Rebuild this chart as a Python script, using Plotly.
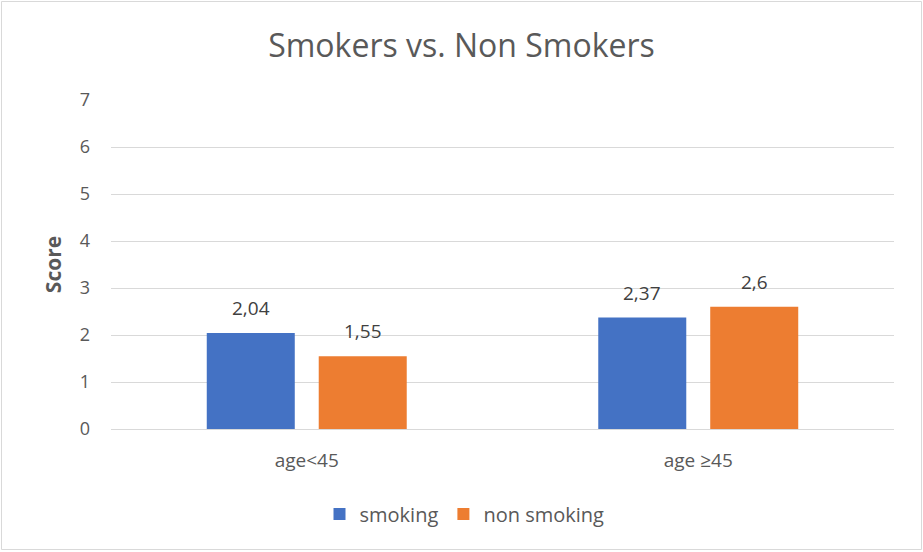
import plotly.graph_objects as go

categories = ["age<45", "age \u226545"]
smoking = [2.04, 2.37]
non_smoking = [1.55, 2.6]
smoking_labels = ["2,04", "2,37"]
non_smoking_labels = ["1,55", "2,6"]
y_ticks = [0, 1, 2, 3, 4, 5, 6, 7]

FONT = "Open Sans"
GREY = "#595959"
LABEL = "#404040"

fig = go.Figure()
fig.add_trace(go.Bar(name="smoking", x=categories, y=smoking,
                     marker_color="#4472C4", marker_line_width=0))
fig.add_trace(go.Bar(name="non smoking", x=categories, y=non_smoking,
                     marker_color="#ED7D31", marker_line_width=0))

annotations = []
for cat, v, t in zip(categories, smoking, smoking_labels):
    annotations.append(dict(x=cat, y=v, text=t, xref="x", yref="y",
                            xshift=-56, yshift=10, yanchor="bottom",
                            showarrow=False,
                            font=dict(size=19, color=LABEL, family=FONT)))
for cat, v, t in zip(categories, non_smoking, non_smoking_labels):
    annotations.append(dict(x=cat, y=v, text=t, xref="x", yref="y",
                            xshift=56, yshift=10, yanchor="bottom",
                            showarrow=False,
                            font=dict(size=19, color=LABEL, family=FONT)))

L, R, T, B = 111, 29, 100, 123
W, H = 923, 552
pw, ph = W - L - R, H - T - B

def px_x(x):
    return (x - L) / pw

def px_y(y):
    return (H - B - y) / ph

fig.update_layout(
    width=W, height=H,
    margin=dict(l=L, r=R, t=T, b=B),
    paper_bgcolor="white", plot_bgcolor="white",
    barmode="group", bargap=0.428, bargroupgap=0.214,
    font=dict(family=FONT, color=GREY, size=18),
    title=dict(text="Smokers vs. Non Smokers", x=0.5, xanchor="center",
               y=1 - 46 / H, yanchor="middle",
               font=dict(size=32, color=GREY, family=FONT)),
    xaxis=dict(showgrid=False, showline=False, ticks="",
               tickfont=dict(size=19, color=GREY), ticklabelstandoff=18),
    yaxis=dict(range=[0, 7], tickvals=y_ticks, showgrid=True,
               gridcolor="#d9d9d9", gridwidth=1, zeroline=True,
               zerolinecolor="#d9d9d9", zerolinewidth=1,
               tickfont=dict(size=18, color=GREY), ticklabelstandoff=20,
               title=dict(text="<b>Score</b>", font=dict(size=21, color=GREY),
                          standoff=12)),
    legend=dict(orientation="h", x=px_x(464.5), xanchor="center",
                y=px_y(514), yanchor="middle",
                font=dict(size=20, color=GREY), itemwidth=30,
                traceorder="normal"),
    showlegend=True,
    annotations=annotations,
    shapes=[dict(type="rect", xref="paper", yref="paper",
                 x0=px_x(1.5), x1=px_x(921.5), y0=px_y(549.5), y1=px_y(1.5),
                 line=dict(color="#d9d9d9", width=1), fillcolor="rgba(0,0,0,0)",
                 layer="below")],
)

fig.write_html("out.html")
